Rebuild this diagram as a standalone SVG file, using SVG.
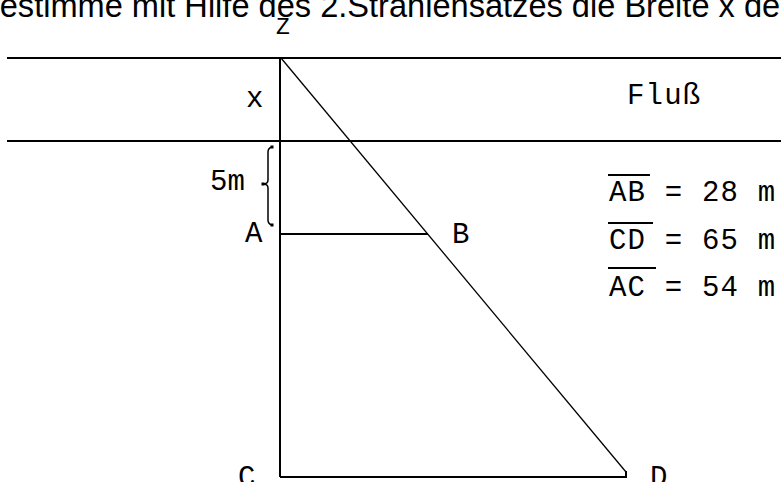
<svg xmlns="http://www.w3.org/2000/svg" width="781" height="482" viewBox="0 0 781 482">
<style>
.ln{stroke:#000;stroke-width:2;fill:none}
.diag{stroke:#000;stroke-width:1.3;fill:none}
.lbl{font-family:"Liberation Mono","Courier New",monospace;font-size:29px;fill:#000}
.title{font-family:"Liberation Sans",Arial,sans-serif;font-size:32.6px;fill:#000}
.dot{fill:#000}
</style>
<rect width="781" height="482" fill="#fff"/>
<text class="title" x="-22" y="17">Bestimme mit Hilfe des 2.Strahlensatzes die Breite x des Flusses.</text>
<g id="connectors">
<line class="ln" x1="7" y1="58" x2="781" y2="58"/>
<line class="ln" x1="7" y1="141" x2="781" y2="141"/>
<line class="ln" x1="280" y1="58" x2="280" y2="477"/>
<line class="ln" x1="280" y1="234" x2="428" y2="234"/>
<line class="ln" x1="280" y1="477" x2="626" y2="477"/>
<line class="ln" x1="626" y1="471" x2="626" y2="478"/>
<line class="diag" x1="281" y1="58" x2="626" y2="472"/>
<path class="ln" style="stroke-width:1.5" d="M272,147 Q268,148 268,152 L268,180 Q268,184 263,184 Q268,184 268,188 L268,220 Q268,224 272,225"/>
<rect class="dot" x="270.5" y="145.5" width="3" height="3"/>
<rect class="dot" x="261.5" y="182.5" width="3" height="3"/>
<rect class="dot" x="270.5" y="223.5" width="3" height="3"/>
</g>
<g id="node-Z"><text class="lbl" x="276" y="34" style="font-size:23px">Z</text></g>
<g id="node-x"><text class="lbl" x="246" y="107">x</text></g>
<g id="node-Fluss"><text class="lbl" x="627" y="104" letter-spacing="1.2">Fluß</text></g>
<g id="node-5m"><text class="lbl" x="210" y="190">5m</text></g>
<g id="node-A"><text class="lbl" x="245" y="242">A</text></g>
<g id="node-B"><text class="lbl" x="452" y="243">B</text></g>
<g id="node-C"><text class="lbl" x="238" y="486">C</text></g>
<g id="node-D"><text class="lbl" x="650" y="486">D</text></g>
<g id="equations">
<text class="lbl" x="609" y="201" letter-spacing="1.2" xml:space="preserve">AB = 28 m</text>
<line class="ln" x1="608" y1="175" x2="650" y2="175"/>
<text class="lbl" x="609" y="249" letter-spacing="1.2" xml:space="preserve">CD = 65 m</text>
<line class="ln" x1="608" y1="223" x2="653" y2="223"/>
<text class="lbl" x="609" y="296" letter-spacing="1.2" xml:space="preserve">AC = 54 m</text>
<line class="ln" x1="608" y1="268" x2="656" y2="268"/>
</g>
</svg>
